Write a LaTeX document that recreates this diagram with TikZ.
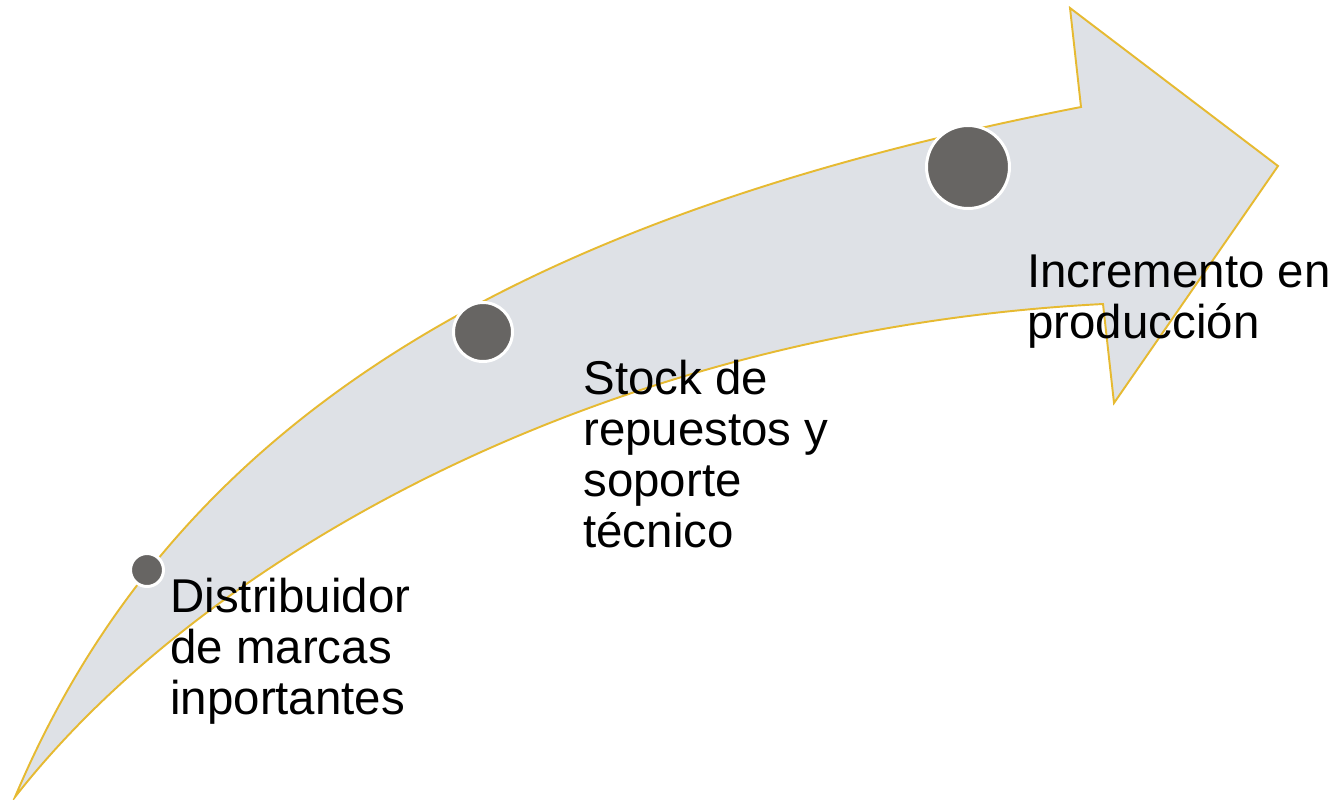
\documentclass[tikz,border=0pt]{standalone}
\usepackage{fontspec}
\setmainfont{Liberation Sans}
\definecolor{arrowfill}{HTML}{DEE1E6}
\definecolor{arrowedge}{HTML}{E6BA32}
\definecolor{dotgray}{HTML}{676563}
\begin{document}
\begin{tikzpicture}[x=0.02cm,y=-0.02cm,
    dot/.style={circle,fill=dotgray,draw=white,line width=1.7pt,inner sep=0pt},
    stagetext/.style={anchor=base west,align=left,inner sep=0pt,
      font=\fontsize{27}{29}\selectfont}]
  \useasboundingbox (0,0) rectangle (1342,799);
  % curved arrow
  \filldraw[fill=arrowfill,draw=arrowedge,line width=1.1pt]
    (15,797) .. controls (170,430) and (500,220) .. (1081,107)
    -- (1070,8) -- (1278,166) -- (1114,403) -- (1103,304)
    .. controls (600,330) and (200,560) .. (15,797) -- cycle;
  % stages (node base = last line)
  \node[dot,minimum size=0.66cm] (dotA) at (147,570) {};
  \node[dot,minimum size=1.18cm] (dotB) at (483,332) {};
  \node[dot,minimum size=1.66cm] (dotC) at (968,167) {};
  \node[stagetext] (textA) at (170,714) {Distribuidor\\de marcas\\inportantes};
  \node[stagetext] (textB) at (583,547) {Stock de\\repuestos y\\soporte\\técnico};
  \node[stagetext] (textC) at (1027,338) {Incremento en\\producción};
\end{tikzpicture}
\end{document}
